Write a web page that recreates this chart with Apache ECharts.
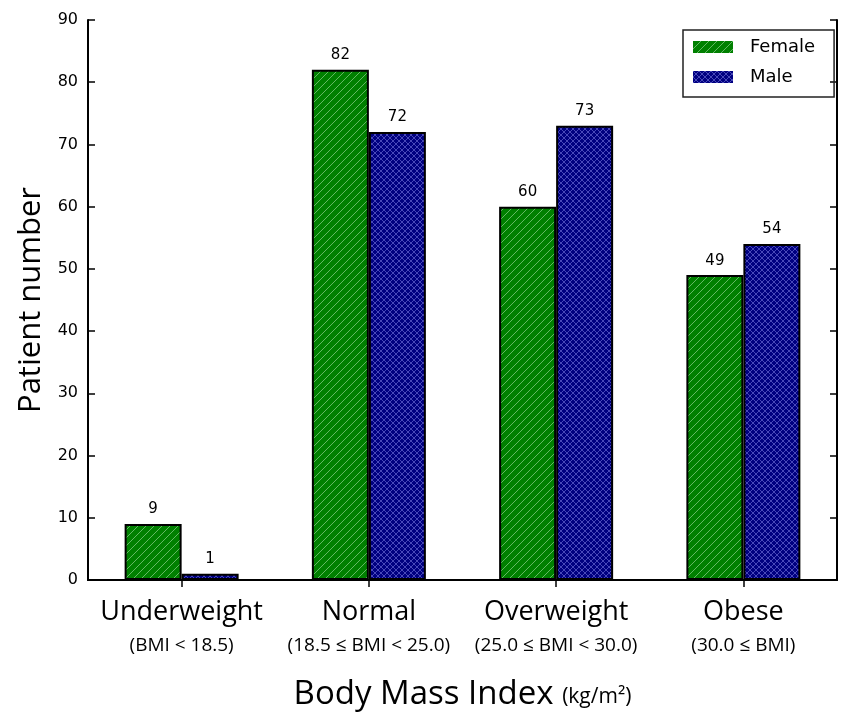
<!DOCTYPE html>
<html><head><meta charset="utf-8">
<script src="https://cdn.jsdelivr.net/npm/echarts@6/dist/echarts.min.js"></script>
<style>html,body{margin:0;padding:0;background:#fff}#c{width:846px;height:714px}</style>
</head><body><div id="c"></div>
<script>
const categories = ['Underweight', 'Normal', 'Overweight', 'Obese'];
const subLabels = ['(BMI < 18.5)', '(18.5 ≤ BMI < 25.0)', '(25.0 ≤ BMI < 30.0)', '(30.0 ≤ BMI)'];
const female = [9, 82, 60, 49];
const male = [1, 72, 73, 54];
const yTicks = [0, 10, 20, 30, 40, 50, 60, 70, 80, 90];

function hatch(bg, fg, size, cross) {
  const c = document.createElement('canvas');
  c.width = size; c.height = size;
  const g = c.getContext('2d');
  g.fillStyle = bg; g.fillRect(0, 0, size, size);
  g.strokeStyle = fg; g.lineWidth = 1;
  g.beginPath();
  g.moveTo(-1, size + 1); g.lineTo(size + 1, -1);
  if (cross) { g.moveTo(-1, -1); g.lineTo(size + 1, size + 1); }
  g.stroke();
  return c;
}
const greenPat = { image: hatch('#008000', 'rgba(150,215,150,0.65)', 8, false), repeat: 'repeat' };
const bluePat = { image: hatch('#000080', 'rgba(160,160,255,0.45)', 6, true), repeat: 'repeat' };

const chart = echarts.init(document.getElementById('c'), null, { renderer: 'canvas' });
const font = 'DejaVu Sans';
chart.setOption({
  animation: false,
  grid: { left: 88, right: 9, top: 20, bottom: 134, containLabel: false, outerBoundsMode: 'none' },
  legend: {
    orient: 'vertical', left: 683, top: 30,
    data: ['Female', 'Male'], icon: 'rect',
    borderColor: '#222', borderWidth: 1.5, padding: [7, 19, 10, 10],
    itemWidth: 40, itemHeight: 12, itemGap: 10,
    itemStyle: { borderWidth: 0 },
    textStyle: { fontFamily: font, fontSize: 18, lineHeight: 20, color: '#000', padding: [0, 0, 0, 12] }
  },
  xAxis: [{
    type: 'category', data: categories,
    axisLine: { lineStyle: { color: '#000', width: 2 } },
    axisTick: { show: false },
    axisLabel: {
      margin: 14, color: '#000',
      formatter: (v, i) => '{a|' + v + '}\n{b|' + subLabels[i] + '}',
      rich: {
        a: { fontFamily: 'Open Sans', fontSize: 27, lineHeight: 36, color: '#000' },
        b: { fontFamily: 'Open Sans', fontSize: 19, lineHeight: 32, color: '#000' }
      }
    },
    name: '{m|Body Mass Index }{s|(kg/m²)}', nameLocation: 'middle', nameGap: 98,
    nameTextStyle: {
      rich: {
        m: { fontFamily: 'Open Sans', fontSize: 33, color: '#000' },
        s: { fontFamily: 'Open Sans', fontSize: 21, color: '#000', padding: [6, 0, 0, 0] }
      }
    }
  }, {
    type: 'category', data: categories, position: 'top',
    axisLine: { lineStyle: { color: '#000', width: 2 } },
    axisTick: { show: true, inside: true, alignWithLabel: true, length: 7, lineStyle: { color: '#000', width: 1.5 } },
    axisLabel: { show: false }
  }],
  yAxis: [{
    type: 'value', min: 0, max: 90, interval: 10,
    axisLine: { show: true, lineStyle: { color: '#000', width: 2 } },
    axisTick: { show: true, inside: true, length: 7, lineStyle: { color: '#000', width: 1.5 } },
    splitLine: { show: false },
    axisLabel: { fontFamily: font, fontSize: 16, color: '#000', margin: 10 },
    name: 'Patient number', nameLocation: 'middle', nameGap: 40,
    nameTextStyle: { fontFamily: 'Open Sans', fontSize: 31, color: '#000' }
  }, {
    type: 'value', min: 0, max: 90, interval: 10, position: 'right',
    axisLine: { show: true, lineStyle: { color: '#000', width: 2 } },
    axisTick: { show: true, inside: true, length: 7, lineStyle: { color: '#000', width: 1.5 } },
    splitLine: { show: false },
    axisLabel: { show: false }
  }],
  series: [{
    name: 'Female', type: 'bar', data: female, barWidth: 57, barGap: '0%',
    itemStyle: { color: greenPat, borderColor: '#000', borderWidth: 2 },
    label: { show: true, position: 'top', distance: 7, fontFamily: font, fontSize: 15, color: '#000' }
  }, {
    name: 'Male', type: 'bar', data: male, barWidth: 57, barGap: '0%',
    itemStyle: { color: bluePat, borderColor: '#000', borderWidth: 2 },
    label: { show: true, position: 'top', distance: 7, fontFamily: font, fontSize: 15, color: '#000' }
  }]
});
</script></body></html>
